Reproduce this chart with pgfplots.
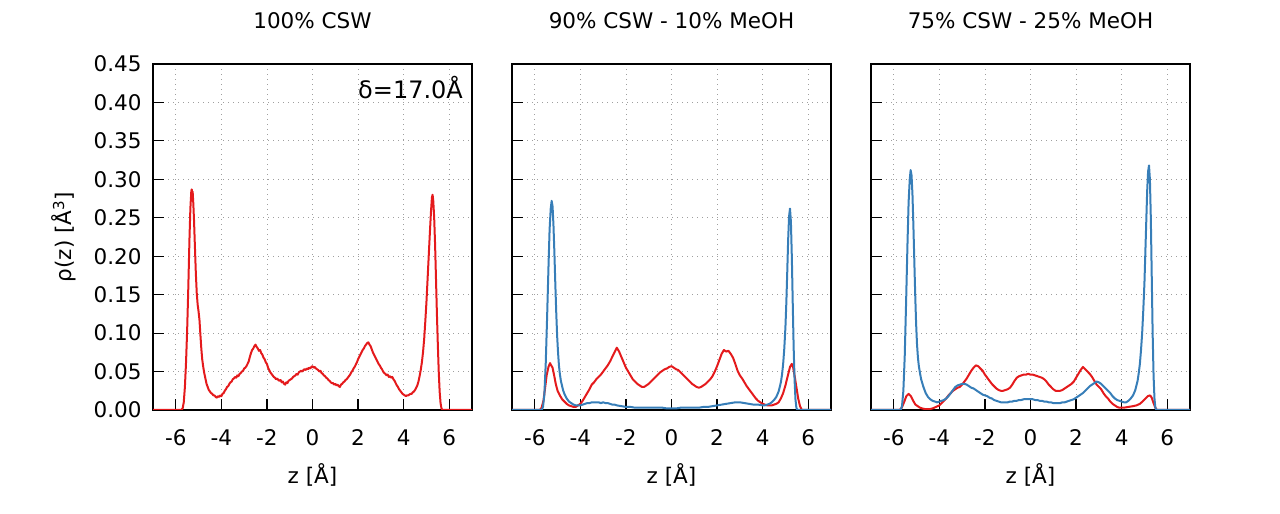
\documentclass[border=0pt]{standalone}
\usepackage{fontspec}
\setmainfont{DejaVu Sans}
\usepackage{pgfplots}
\usepackage{pgfplotstable}
\pgfplotsset{compat=1.18}
\definecolor{cred}{HTML}{E41A1C}
\definecolor{cblue}{HTML}{377EB8}
\pgfplotsset{
  panel/.style={
    scale only axis, width=319pt, height=346pt,
    xmin=-7, xmax=7, ymin=0, ymax=0.45,
    xtick={-6,-4,-2,0,2,4,6},
    xticklabels={-6,-4,-2,0,2,4,6},
    ytick={0,0.05,0.10,0.15,0.20,0.25,0.30,0.35,0.40,0.45},
    tick align=inside, xtick pos=bottom, ytick pos=left,
    major tick length=11pt,
    minor tick num=0,
    grid=major,
    grid style={gray!75, dash pattern=on 1pt off 4pt, line width=0.8pt},
    axis line style={line width=1.2pt, black},
    every tick/.style={black, line width=1.2pt},
    tick label style={font=\fontsize{21.5}{25}\selectfont},
    xticklabel style={anchor=center, yshift=-28pt},
    yticklabel style={anchor=east, xshift=-8pt},
    title style={font=\fontsize{21.5}{25}\selectfont, at={(axis description cs:0.5,1)}, anchor=center, yshift=37pt},
    xlabel style={font=\fontsize{21.5}{25}\selectfont, at={(axis description cs:0.5,0)}, anchor=center, yshift=-65pt},
    ylabel style={font=\fontsize{21.5}{25}\selectfont, at={(axis description cs:-0.279,0.5)}, anchor=center},
    xlabel={z [Å]},
    clip=true,
  },
  redline/.style={cred, line width=2pt, line join=round},
  blueline/.style={cblue, line width=2pt, line join=round},
}
\begin{document}
\pgfplotstableread{
z rho
-7.00 0
-5.76 0
-5.70 0.002
-5.65 0.010
-5.60 0.030
-5.55 0.062
-5.50 0.105
-5.45 0.160
-5.40 0.222
-5.36 0.262
-5.32 0.284
-5.30 0.287
-5.28 0.279
-5.26 0.284
-5.23 0.268
-5.20 0.247
-5.16 0.212
-5.12 0.178
-5.08 0.152
-5.04 0.137
-5.00 0.128
-4.96 0.117
-4.92 0.098
-4.88 0.080
-4.84 0.066
-4.80 0.057
-4.75 0.048
-4.70 0.041
-4.65 0.034
-4.60 0.030
-4.55 0.026
-4.50 0.024
-4.45 0.022
-4.40 0.021
-4.35 0.019
-4.30 0.019
-4.25 0.017
-4.20 0.016
-4.15 0.018
-4.10 0.017
-4.05 0.019
-4.00 0.018
-3.95 0.021
-3.90 0.022
-3.85 0.025
-3.80 0.027
-3.75 0.030
-3.70 0.031
-3.65 0.034
-3.60 0.036
-3.55 0.037
-3.50 0.040
-3.45 0.041
-3.40 0.043
-3.35 0.042
-3.30 0.045
-3.25 0.044
-3.20 0.047
-3.15 0.048
-3.10 0.050
-3.05 0.051
-3.00 0.054
-2.95 0.055
-2.90 0.057
-2.85 0.060
-2.80 0.063
-2.75 0.069
-2.70 0.074
-2.65 0.078
-2.60 0.080
-2.55 0.083
-2.50 0.085
-2.45 0.082
-2.40 0.080
-2.35 0.077
-2.30 0.078
-2.25 0.074
-2.20 0.072
-2.15 0.068
-2.10 0.066
-2.05 0.062
-2.00 0.060
-1.95 0.055
-1.90 0.052
-1.85 0.049
-1.80 0.047
-1.75 0.045
-1.70 0.043
-1.65 0.042
-1.60 0.040
-1.55 0.041
-1.50 0.039
-1.45 0.038
-1.40 0.039
-1.35 0.036
-1.30 0.037
-1.25 0.034
-1.20 0.033
-1.15 0.036
-1.10 0.035
-1.05 0.038
-1.00 0.039
-0.95 0.040
-0.90 0.041
-0.85 0.043
-0.80 0.044
-0.75 0.045
-0.70 0.047
-0.65 0.046
-0.60 0.049
-0.55 0.050
-0.50 0.051
-0.45 0.050
-0.40 0.052
-0.35 0.053
-0.30 0.052
-0.25 0.054
-0.20 0.053
-0.15 0.055
-0.10 0.054
-0.05 0.056
0.00 0.057
0.05 0.055
0.10 0.056
0.15 0.054
0.20 0.053
0.25 0.052
0.30 0.050
0.35 0.051
0.40 0.048
0.45 0.047
0.50 0.045
0.55 0.044
0.60 0.042
0.65 0.041
0.70 0.039
0.75 0.038
0.80 0.036
0.85 0.035
0.90 0.035
0.95 0.033
1.00 0.034
1.05 0.032
1.10 0.033
1.15 0.031
1.20 0.030
1.25 0.033
1.30 0.034
1.35 0.036
1.40 0.037
1.45 0.039
1.50 0.040
1.55 0.042
1.60 0.044
1.65 0.046
1.70 0.049
1.75 0.051
1.80 0.054
1.85 0.056
1.90 0.059
1.95 0.062
2.00 0.066
2.05 0.069
2.10 0.072
2.15 0.075
2.20 0.078
2.25 0.080
2.30 0.083
2.35 0.085
2.40 0.087
2.45 0.088
2.50 0.085
2.55 0.083
2.60 0.079
2.65 0.075
2.70 0.072
2.75 0.069
2.80 0.066
2.85 0.063
2.90 0.060
2.95 0.058
3.00 0.055
3.05 0.053
3.10 0.050
3.15 0.048
3.20 0.047
3.25 0.045
3.30 0.046
3.35 0.043
3.40 0.044
3.45 0.042
3.50 0.043
3.55 0.040
3.60 0.038
3.65 0.035
3.70 0.032
3.75 0.030
3.80 0.027
3.85 0.025
3.90 0.023
3.95 0.021
4.00 0.020
4.05 0.019
4.10 0.018
4.15 0.019
4.20 0.019
4.25 0.020
4.30 0.021
4.35 0.021
4.40 0.023
4.45 0.024
4.50 0.026
4.55 0.029
4.60 0.032
4.65 0.037
4.70 0.044
4.75 0.052
4.80 0.062
4.85 0.075
4.90 0.092
4.95 0.115
5.00 0.140
5.05 0.170
5.10 0.200
5.15 0.230
5.20 0.258
5.24 0.276
5.27 0.280
5.30 0.272
5.34 0.250
5.38 0.215
5.42 0.170
5.46 0.125
5.50 0.085
5.54 0.050
5.58 0.024
5.62 0.009
5.66 0.002
5.70 0
7.00 0
}\pOneRed
\pgfplotstableread{
z rho
-7.00 0
-5.78 0
-5.70 0.003
-5.62 0.012
-5.55 0.028
-5.48 0.045
-5.40 0.056
-5.33 0.061
-5.28 0.058
-5.22 0.055
-5.15 0.045
-5.08 0.034
-5.00 0.025
-4.90 0.019
-4.80 0.014
-4.70 0.011
-4.60 0.008
-4.50 0.006
-4.40 0.005
-4.30 0.004
-4.20 0.004
-4.10 0.006
-4.00 0.008
-3.90 0.012
-3.80 0.017
-3.70 0.022
-3.60 0.027
-3.50 0.033
-3.40 0.036
-3.30 0.040
-3.20 0.043
-3.10 0.046
-3.00 0.050
-2.90 0.054
-2.80 0.058
-2.70 0.063
-2.60 0.069
-2.50 0.075
-2.40 0.081
-2.30 0.076
-2.20 0.069
-2.10 0.062
-2.00 0.055
-1.90 0.050
-1.80 0.045
-1.70 0.040
-1.60 0.037
-1.50 0.034
-1.40 0.032
-1.30 0.030
-1.20 0.030
-1.10 0.032
-1.00 0.034
-0.90 0.037
-0.80 0.040
-0.70 0.043
-0.60 0.046
-0.50 0.049
-0.40 0.051
-0.30 0.053
-0.20 0.054
-0.10 0.056
0.00 0.057
0.10 0.055
0.20 0.053
0.30 0.052
0.40 0.049
0.50 0.046
0.60 0.043
0.70 0.040
0.80 0.037
0.90 0.034
1.00 0.032
1.10 0.030
1.20 0.029
1.30 0.030
1.40 0.032
1.50 0.034
1.60 0.037
1.70 0.040
1.80 0.044
1.90 0.050
2.00 0.057
2.10 0.065
2.20 0.073
2.30 0.078
2.40 0.076
2.50 0.077
2.60 0.073
2.70 0.068
2.80 0.060
2.90 0.051
3.00 0.045
3.10 0.041
3.20 0.036
3.30 0.031
3.40 0.027
3.50 0.023
3.60 0.019
3.70 0.015
3.80 0.012
3.90 0.010
4.00 0.008
4.10 0.007
4.20 0.006
4.30 0.006
4.40 0.006
4.50 0.007
4.60 0.008
4.70 0.010
4.80 0.015
4.90 0.022
5.00 0.032
5.10 0.044
5.20 0.056
5.28 0.060
5.34 0.055
5.40 0.045
5.48 0.030
5.56 0.015
5.64 0.005
5.72 0
7.00 0
}\pTwoRed
\pgfplotstableread{
z rho
-7.00 0
-5.70 0
-5.64 0.004
-5.58 0.020
-5.52 0.060
-5.46 0.120
-5.40 0.185
-5.35 0.235
-5.30 0.262
-5.26 0.272
-5.22 0.265
-5.18 0.240
-5.14 0.205
-5.10 0.165
-5.06 0.128
-5.02 0.097
-4.98 0.075
-4.94 0.058
-4.90 0.047
-4.85 0.037
-4.80 0.031
-4.75 0.025
-4.70 0.021
-4.60 0.015
-4.50 0.011
-4.40 0.009
-4.30 0.007
-4.20 0.006
-4.10 0.006
-4.00 0.006
-3.90 0.007
-3.80 0.008
-3.70 0.009
-3.60 0.009
-3.50 0.010
-3.40 0.010
-3.30 0.010
-3.20 0.010
-3.10 0.009
-3.00 0.010
-2.90 0.009
-2.80 0.009
-2.70 0.008
-2.60 0.007
-2.50 0.007
-2.40 0.006
-2.20 0.005
-2.00 0.004
-1.80 0.004
-1.60 0.003
-1.40 0.003
-1.20 0.003
-1.00 0.003
-0.80 0.003
-0.60 0.003
-0.40 0.003
-0.20 0.002
0.00 0.002
0.20 0.002
0.40 0.003
0.60 0.003
0.80 0.003
1.00 0.003
1.20 0.003
1.40 0.004
1.60 0.004
1.80 0.005
2.00 0.006
2.20 0.007
2.40 0.008
2.60 0.009
2.80 0.010
3.00 0.010
3.20 0.009
3.40 0.008
3.60 0.007
3.80 0.007
4.00 0.006
4.10 0.006
4.20 0.007
4.30 0.008
4.40 0.010
4.50 0.013
4.60 0.017
4.70 0.024
4.80 0.036
4.85 0.046
4.90 0.060
4.95 0.080
5.00 0.108
5.04 0.140
5.08 0.180
5.12 0.222
5.16 0.252
5.20 0.262
5.24 0.245
5.28 0.200
5.32 0.140
5.36 0.082
5.40 0.040
5.44 0.014
5.48 0.003
5.52 0
7.00 0
}\pTwoBlue
\pgfplotstableread{
z rho
-7.00 0
-5.75 0
-5.65 0.003
-5.55 0.010
-5.45 0.018
-5.35 0.021
-5.25 0.018
-5.15 0.012
-5.05 0.007
-4.95 0.005
-4.85 0.003
-4.75 0.002
-4.60 0.001
-4.45 0.001
-4.30 0.002
-4.15 0.004
-4.00 0.006
-3.90 0.009
-3.80 0.012
-3.70 0.015
-3.60 0.019
-3.50 0.022
-3.40 0.025
-3.30 0.027
-3.20 0.029
-3.10 0.030
-3.00 0.033
-2.90 0.037
-2.80 0.041
-2.70 0.046
-2.60 0.051
-2.50 0.055
-2.40 0.058
-2.30 0.057
-2.20 0.054
-2.10 0.051
-2.00 0.046
-1.90 0.042
-1.80 0.038
-1.70 0.034
-1.60 0.031
-1.50 0.028
-1.40 0.026
-1.30 0.025
-1.20 0.025
-1.10 0.026
-1.00 0.027
-0.90 0.029
-0.80 0.033
-0.70 0.038
-0.60 0.042
-0.50 0.044
-0.40 0.045
-0.30 0.046
-0.20 0.046
-0.10 0.047
0.00 0.046
0.10 0.046
0.20 0.045
0.30 0.044
0.40 0.043
0.50 0.042
0.60 0.040
0.70 0.037
0.80 0.033
0.90 0.030
1.00 0.027
1.10 0.025
1.20 0.025
1.30 0.025
1.40 0.026
1.50 0.028
1.60 0.030
1.70 0.032
1.80 0.034
1.90 0.037
2.00 0.042
2.10 0.047
2.20 0.052
2.30 0.056
2.40 0.053
2.50 0.050
2.60 0.047
2.70 0.043
2.80 0.038
2.90 0.033
3.00 0.030
3.10 0.027
3.20 0.022
3.30 0.018
3.40 0.015
3.50 0.011
3.60 0.008
3.70 0.006
3.80 0.004
3.90 0.003
4.00 0.003
4.10 0.003
4.30 0.004
4.50 0.005
4.65 0.006
4.80 0.008
4.95 0.012
5.05 0.015
5.15 0.018
5.25 0.019
5.32 0.016
5.40 0.009
5.48 0.003
5.55 0
7.00 0
}\pThreeRed
\pgfplotstableread{
z rho
-7.00 0
-5.70 0
-5.64 0.005
-5.58 0.025
-5.52 0.070
-5.46 0.140
-5.40 0.215
-5.35 0.270
-5.30 0.300
-5.26 0.312
-5.22 0.305
-5.18 0.280
-5.14 0.240
-5.10 0.195
-5.06 0.150
-5.02 0.112
-4.98 0.085
-4.94 0.068
-4.90 0.057
-4.85 0.048
-4.80 0.040
-4.70 0.030
-4.60 0.022
-4.50 0.017
-4.40 0.014
-4.30 0.012
-4.20 0.011
-4.10 0.010
-4.00 0.011
-3.90 0.012
-3.80 0.013
-3.70 0.015
-3.60 0.018
-3.50 0.022
-3.40 0.026
-3.30 0.030
-3.20 0.032
-3.10 0.033
-3.00 0.034
-2.90 0.034
-2.80 0.033
-2.70 0.031
-2.60 0.029
-2.50 0.028
-2.40 0.026
-2.30 0.024
-2.20 0.022
-2.10 0.020
-2.00 0.019
-1.90 0.018
-1.80 0.016
-1.70 0.015
-1.60 0.013
-1.50 0.012
-1.40 0.011
-1.30 0.010
-1.20 0.010
-1.10 0.010
-1.00 0.010
-0.90 0.011
-0.80 0.011
-0.70 0.012
-0.60 0.012
-0.50 0.013
-0.40 0.013
-0.30 0.014
-0.20 0.014
-0.10 0.014
0.00 0.014
0.10 0.014
0.20 0.013
0.30 0.013
0.40 0.012
0.50 0.012
0.60 0.011
0.70 0.011
0.80 0.010
0.90 0.010
1.00 0.009
1.10 0.009
1.20 0.009
1.30 0.009
1.40 0.010
1.50 0.010
1.60 0.011
1.70 0.012
1.80 0.013
1.90 0.014
2.00 0.016
2.10 0.018
2.20 0.020
2.30 0.022
2.40 0.025
2.50 0.028
2.60 0.031
2.70 0.033
2.80 0.035
2.90 0.037
3.00 0.036
3.10 0.034
3.20 0.031
3.30 0.028
3.40 0.025
3.50 0.022
3.60 0.018
3.70 0.015
3.80 0.013
3.90 0.012
4.00 0.011
4.10 0.010
4.20 0.010
4.30 0.012
4.40 0.015
4.50 0.019
4.60 0.026
4.70 0.038
4.75 0.048
4.80 0.060
4.85 0.078
4.90 0.100
4.95 0.130
5.00 0.165
5.04 0.205
5.08 0.245
5.12 0.285
5.16 0.310
5.20 0.318
5.24 0.300
5.28 0.250
5.32 0.175
5.36 0.100
5.40 0.045
5.44 0.015
5.48 0.003
5.52 0
7.00 0
}\pThreeBlue
\begin{tikzpicture}
\useasboundingbox (0,0) rectangle (1280pt,514pt);
\begin{axis}[panel, at={(153pt,104pt)}, anchor=south west,
  title={100\% CSW},
  ylabel={ρ(z) [Å\textsuperscript{3}]},
  yticklabels={0.00,0.05,0.10,0.15,0.20,0.25,0.30,0.35,0.40,0.45}]
\addplot[redline] table[x=z,y=rho] {\pOneRed};
\node[anchor=east, inner sep=0pt, font=\fontsize{24}{28}\selectfont] at (rel axis cs:0.972,0.931) {δ=17.0Å};
\end{axis}
\begin{axis}[panel, at={(512pt,104pt)}, anchor=south west,
  title={90\% CSW - 10\% MeOH},
  yticklabels={}]
\addplot[redline] table[x=z,y=rho] {\pTwoRed};
\addplot[blueline] table[x=z,y=rho] {\pTwoBlue};
\end{axis}
\begin{axis}[panel, at={(871pt,104pt)}, anchor=south west,
  title={75\% CSW - 25\% MeOH},
  yticklabels={}]
\addplot[redline] table[x=z,y=rho] {\pThreeRed};
\addplot[blueline] table[x=z,y=rho] {\pThreeBlue};
\end{axis}
\end{tikzpicture}
\end{document}
